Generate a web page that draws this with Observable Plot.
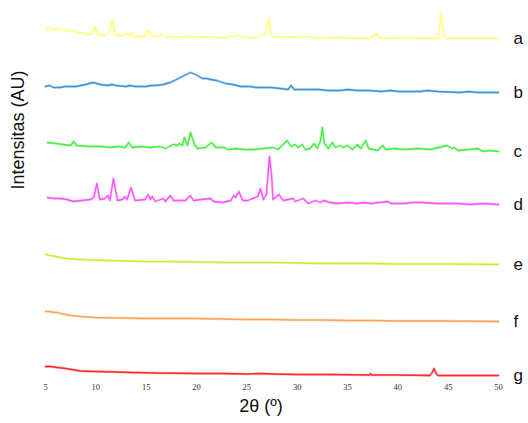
<!DOCTYPE html>
<html>
<head>
<meta charset="utf-8">
<script src="https://cdn.jsdelivr.net/npm/d3@7"></script>
<script src="https://cdn.jsdelivr.net/npm/@observablehq/plot@0.6"></script>
<style>body{margin:0;background:#fff}</style>
</head>
<body>
<div id="chart"></div>
<script>
// Series labels, colours and stacking offsets (intensity units)
const labels = ["a", "b", "c", "d", "e", "f", "g"];
const colors = ["#ffff80", "#3a93d6", "#45ee45", "#ff50ff", "#c6ef3a", "#ffa35a", "#ff2b2b"];
const offsets = [340, 286, 227, 174, 114, 57, 3];
const xTicks = [5, 10, 15, 20, 25, 30, 35, 40, 45, 50];
const xDomain = [5, 50];
const xLabel = "2θ (º)";
const yLabel = "Intensitas (AU)";

// [2θ, intensity above own baseline]
const seriesA = [[5,10],[5.2,9],[5.3,11],[5.6,10],[6,9],[6.3,10],[6.5,9],[7,8],[7.5,7],[7.8,8],[8.2,6],[9,5],[9.5,4],[9.7,6],[9.9,12],[10.05,8],[10.2,4],[10.9,3],[11.3,5],[11.5,12],[11.65,19],[11.8,10],[12,3],[12.65,3],[12.95,5],[13.25,3],[13.55,6],[13.85,2],[14.9,2],[15.1,8],[15.4,5],[15.7,2],[16.2,2],[16.6,4],[17,1],[18,2],[19,1],[19.6,2],[20.4,1],[21.2,2],[22,1],[23.2,1],[23.5,3],[23.8,2],[24.1,4],[24.6,1],[26,1],[26.35,3],[26.75,3],[26.95,10],[27.15,20],[27.35,8],[27.55,2],[28.3,1],[29,2],[30,1],[31,2],[32,0],[33,1],[34,1],[35.5,0],[37.3,0],[37.8,5],[38.1,1],[39.3,0],[41,1],[42,0],[44,0],[44.2,16],[44.3,26],[44.4,18],[44.6,3],[44.8,0],[47,0],[50,0]];
const seriesB = [[5,6],[5.4,7],[5.8,5],[6.5,5],[6.9,6],[7.2,6],[8,6],[8.5,7],[9,8],[9.7,10],[10.1,9],[10.5,8],[11.2,7],[11.6,8],[12,7],[13,6],[13.4,7],[13.9,6],[15,6],[15.5,7],[15.9,7],[16.7,8],[17.4,10],[18,13],[18.4,15],[19,18],[19.4,20],[19.9,18],[20.6,14],[21,14],[21.4,13],[22,12],[22.9,9],[23.6,8],[24.4,6],[25.4,6],[25.9,5],[26.4,5],[27.4,5],[28.3,4],[29.1,3],[29.4,7],[29.7,3],[30.5,3],[31.3,3],[32.2,3],[33,2],[34.3,2],[35,3],[36,2],[37.2,2],[38.3,1],[39.3,2],[40,1],[42.2,1],[43,2],[44,1],[46.2,0],[47,1],[48,0],[50,0]];
const seriesC = [[5.2,9],[6,8],[7.5,6],[7.8,10],[8.1,6],[9.5,5],[10.5,5],[11.5,4],[12.2,5],[12.9,4],[13.3,9],[13.6,4],[14.5,5],[15.4,4],[16.4,5],[16.9,3],[17.7,7],[18.1,6],[18.3,8],[18.6,6],[18.8,14],[19.1,6],[19.4,19],[19.8,7],[20.1,3],[20.9,4],[21.5,9],[21.9,4],[22.8,4],[23.1,2],[24,3],[24.7,2],[25.7,2],[26.6,3],[27.6,4],[28.1,2],[29,11],[29.4,5],[29.8,7],[30.1,4],[30.5,7],[30.8,2],[31.3,3],[31.7,8],[32,3],[32.3,10],[32.5,24],[32.7,8],[33.1,3],[33.5,9],[33.8,4],[34.3,6],[34.6,4],[35,6],[35.5,2],[36,7],[36.3,3],[36.8,11],[37.1,3],[38,1],[38.5,6],[38.8,2],[39.7,3],[40.6,2],[42,3],[43.2,2],[44.9,6],[45.4,3],[45.6,4],[46,1],[47,2],[48,3],[48.4,0],[49.2,1],[50,0]];
const seriesD = [[5.2,7],[5.8,6],[6.5,6],[7.1,5],[7.8,3],[8.6,4],[9.5,5],[9.8,7],[10.1,21],[10.4,5],[10.9,6],[11.2,9],[11.4,4],[11.75,26],[12.15,4],[12.65,5],[12.9,8],[13.1,5],[13.5,17],[13.9,4],[14.9,5],[15.2,10],[15.4,5],[15.6,8],[15.9,3],[16.7,6],[16.9,3],[17.4,9],[17.7,4],[18.9,4],[19.4,9],[19.7,4],[20.5,5],[21.4,6],[21.7,3],[22.6,2],[23.4,4],[23.7,9],[23.9,7],[24.2,13],[24.6,4],[25.1,4],[26.1,8],[26.35,16],[26.65,5],[26.95,10],[27.25,48],[27.45,30],[27.6,5],[28.2,10],[28.6,4],[29.6,6],[29.8,3],[30.6,6],[31.1,1],[31.8,4],[32.3,2],[32.6,4],[33.3,2],[34,1],[35,2],[36,1],[36.6,2],[37.3,1],[38.2,2],[39,3],[39.3,1],[40.6,1],[41.5,2],[42.4,2],[43.9,1],[44.9,1],[46,1],[47.2,0],[48.5,1],[50,0]];
const seriesE = [[5,10],[5.5,9],[6,8],[6.5,7],[7,6],[7.7,5.5],[8.5,5],[9.5,4.5],[11,4],[13,3.5],[15,3],[17.5,3],[20,2.5],[22.5,2],[25,2],[27.5,2],[30,1.5],[32.5,1],[35,1],[37.5,1],[40,0.5],[45,0.5],[50,0]];
const seriesF = [[5,10],[5.4,10],[5.8,9],[6.2,9],[6.5,8],[7,7],[7.5,6],[8.5,5],[10,4],[12.5,3.5],[15,3],[17.5,3],[20,3],[22.5,2.5],[25,2],[27.5,2],[30,1.5],[32.5,1.5],[35,1],[37.5,1],[40,0.5],[45,0.5],[50,0]];
const seriesG = [[5,9],[5.5,9],[6.2,8],[7,7],[7.6,6],[8.5,4.5],[10,4],[12,3.5],[13.5,3],[16,2.5],[20,2],[22.5,2],[25,1.5],[26.3,2],[27.5,1.5],[30,1],[33,1],[37.2,0.5],[37.3,2],[37.4,0.5],[40,0.5],[43.2,0],[43.4,3],[43.6,7],[43.8,2],[44,0],[47,0],[50,0]];
const allSeries = [seriesA, seriesB, seriesC, seriesD, seriesE, seriesF, seriesG];

const rows = allSeries.flatMap((s, i) =>
  s.map(([theta, intensity]) => ({label: labels[i], theta, value: offsets[i] + intensity}))
);

const chart = Plot.plot({
  width: 528,
  height: 423,
  marginTop: 0,
  marginBottom: 45,
  marginLeft: 45,
  marginRight: 30,
  style: {background: "#fff", fontFamily: "Liberation Sans, Arial, sans-serif"},
  x: {domain: xDomain},
  y: {domain: [0, 378], axis: null},
  color: {domain: labels, range: colors},
  marks: [
    Plot.axisX({ticks: xTicks, tickSize: 0, tickPadding: 5, fontFamily: "Liberation Serif, Times New Roman, serif", fontSize: 8.5, fill: "#333", label: null}),
    Plot.line(rows, {x: "theta", y: "value", z: "label", stroke: "label", strokeWidth: 2.4, strokeOpacity: 0.35}),
    Plot.line(rows, {x: "theta", y: "value", z: "label", stroke: "label", strokeWidth: 1.3}),
    Plot.text(labels, {x: () => xDomain[1], y: (d, i) => offsets[i], text: d => d, dx: 15, textAnchor: "start", fontSize: 17, fill: "#111"}),
    Plot.text([yLabel], {frameAnchor: "left", dx: -27, rotate: -90, fontSize: 18, fill: "#111"}),
    Plot.text([xLabel], {frameAnchor: "bottom", dy: 33, dx: -11, fontSize: 18, fill: "#111"})
  ]
});
document.getElementById("chart").appendChild(chart);
</script>
</body>
</html>
